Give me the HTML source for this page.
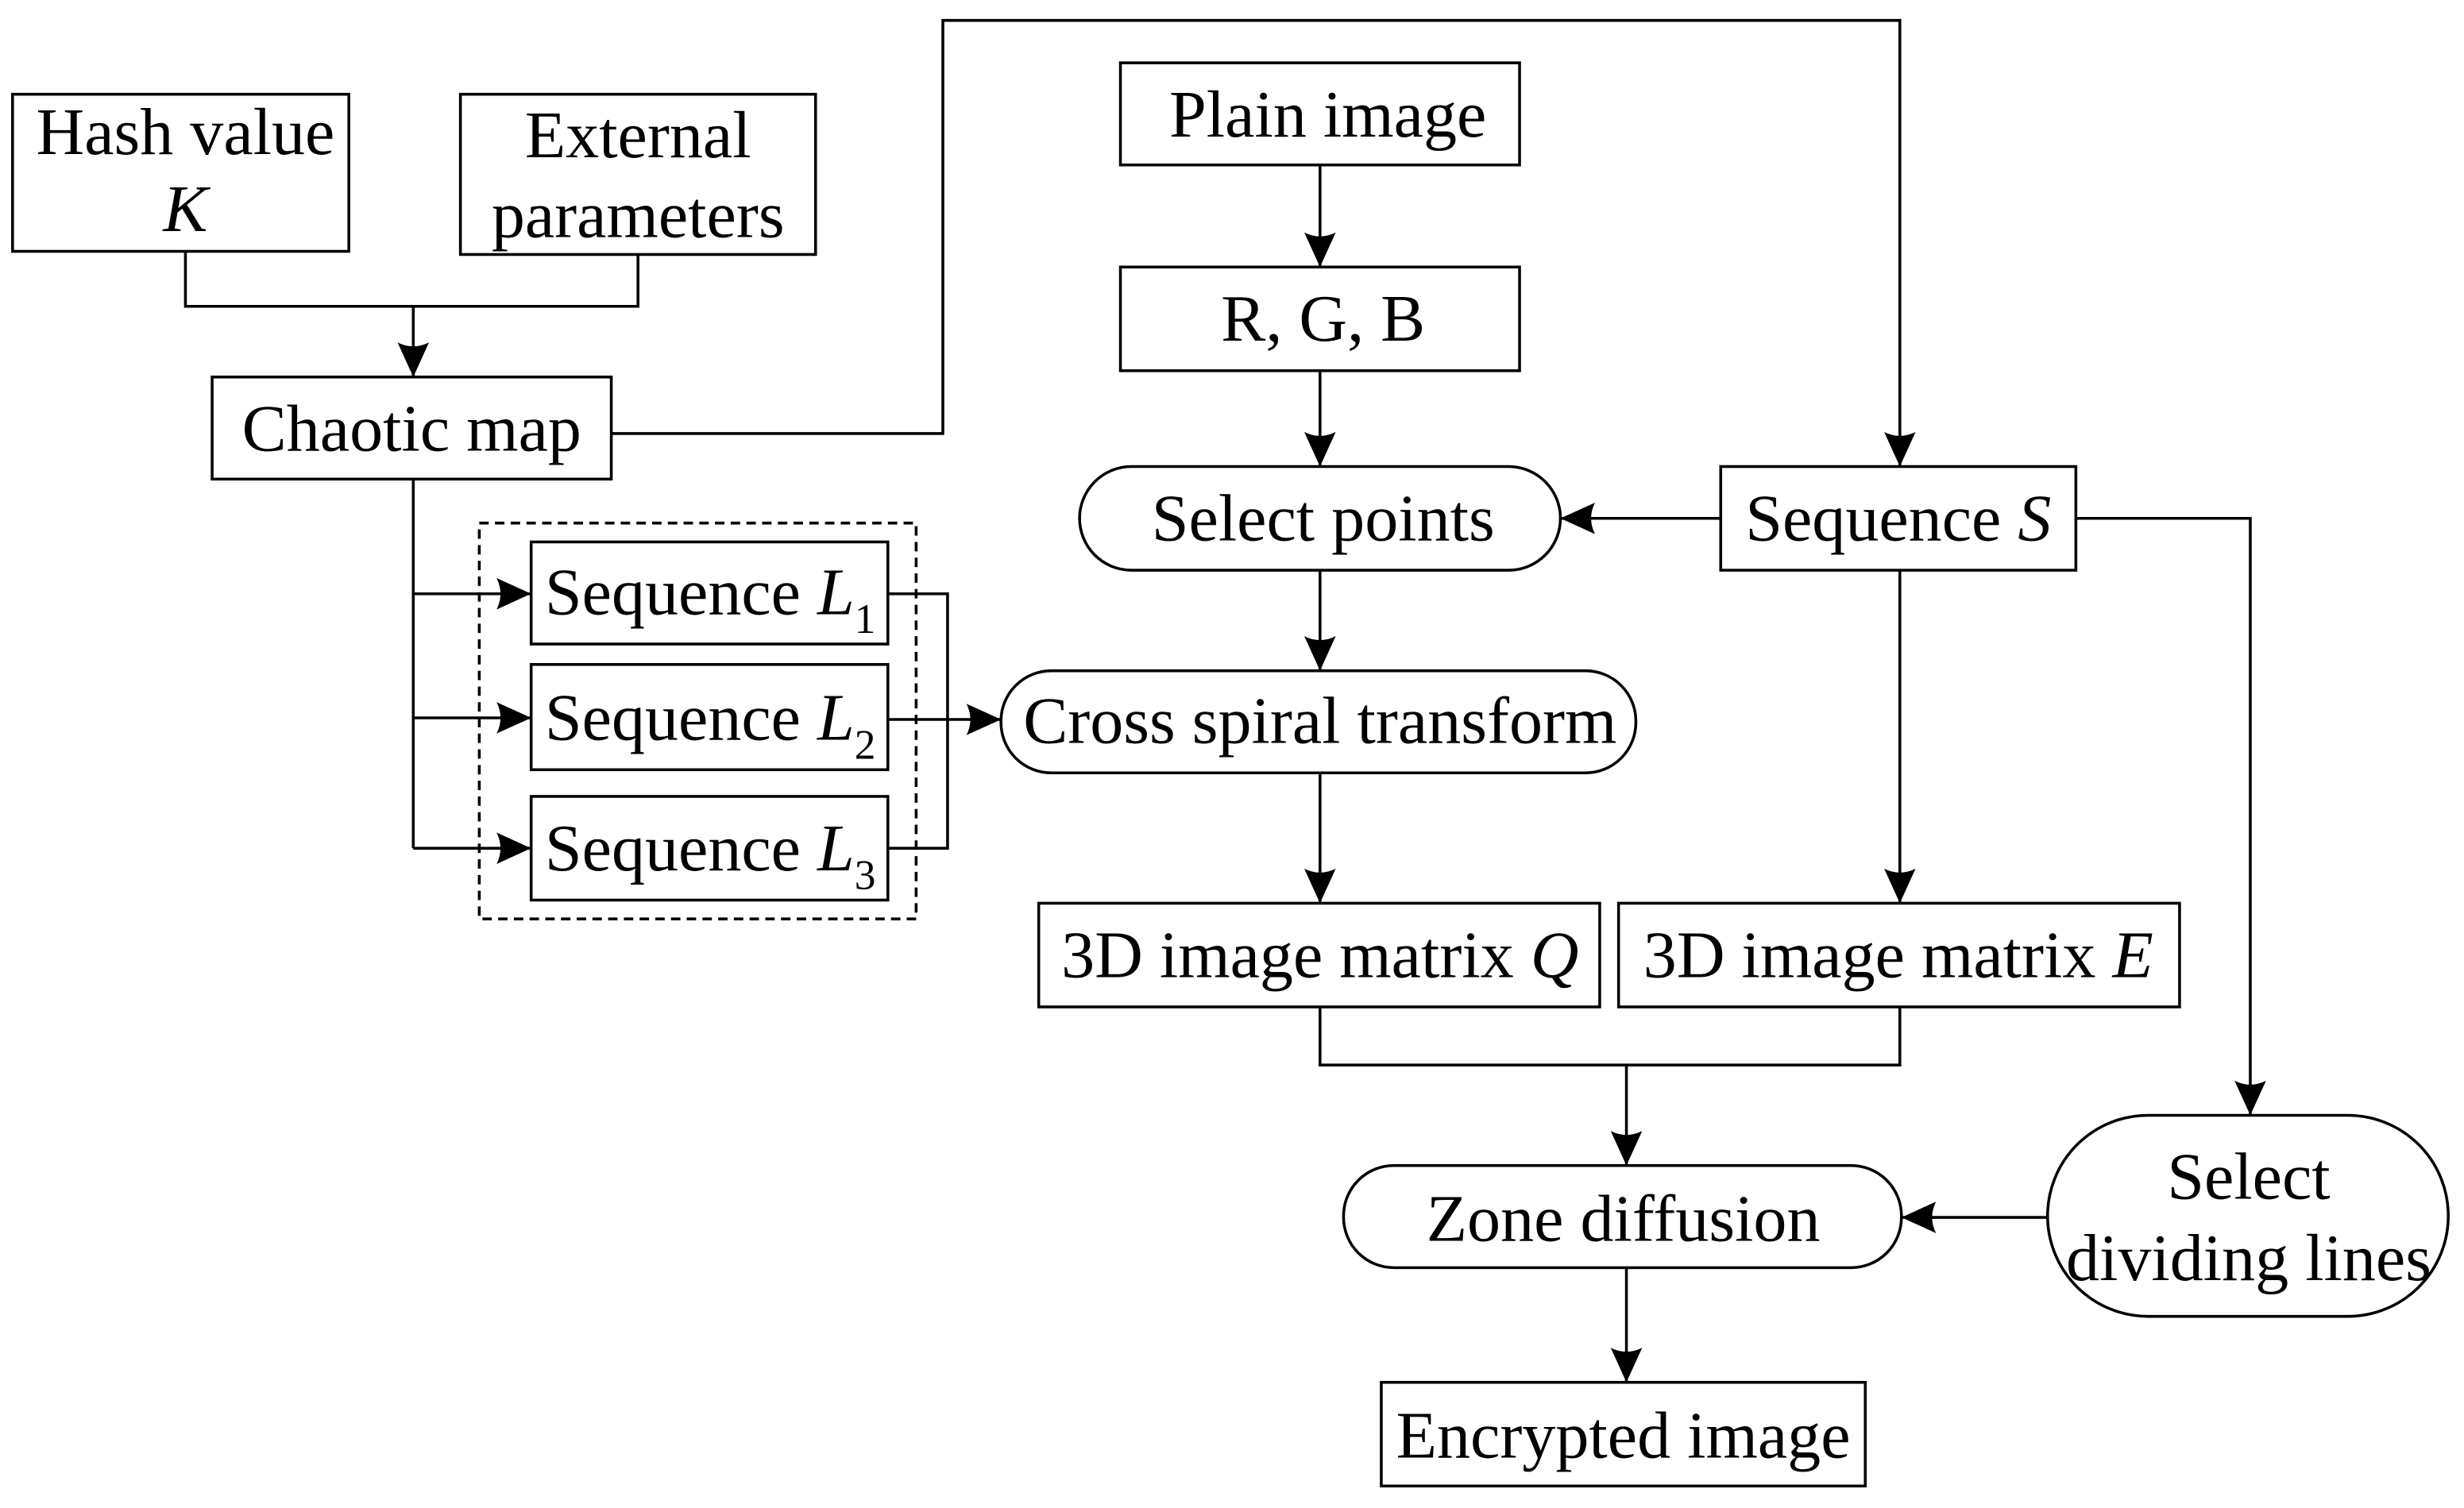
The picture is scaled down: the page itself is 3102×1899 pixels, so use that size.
<!DOCTYPE html>
<html><head><meta charset="utf-8"><style>
html,body{margin:0;padding:0;background:#fff;}
svg{display:block;}
text{font-family:"Liberation Serif",serif;font-size:42.5px;fill:#000;}
</style></head><body>
<svg width="3102" height="1899" viewBox="0 0 1568 960" preserveAspectRatio="none" xmlns="http://www.w3.org/2000/svg">
<defs>
<marker id="b" markerWidth="22" markerHeight="20" refX="22" refY="10" orient="auto" markerUnits="userSpaceOnUse" viewBox="0 0 22 20"><path d="M0,0 L22,10 L0,20 Q5,10 0,0Z" fill="#000"/></marker></defs>
<g fill="none" stroke="#000" stroke-width="1.8">
<rect x="8" y="60" width="214" height="100"/>
<rect x="293" y="60" width="226" height="102"/>
<rect x="135" y="240" width="254" height="65"/>
<rect x="713" y="40" width="254" height="65"/>
<rect x="713" y="170" width="254" height="66"/>
<rect x="687" y="297" width="306" height="66" rx="33"/>
<rect x="1095" y="297" width="226" height="66"/>
<rect x="637" y="427" width="404" height="65" rx="32"/>
<rect x="305" y="333" width="278" height="252" stroke-dasharray="6,4"/>
<rect x="338" y="345" width="227" height="65"/>
<rect x="338" y="423" width="227" height="67"/>
<rect x="338" y="507" width="227" height="66"/>
<rect x="661" y="575" width="357" height="66"/>
<rect x="1030" y="575" width="357" height="66"/>
<rect x="855" y="742" width="355" height="65" rx="32"/>
<rect x="1303" y="710" width="255" height="128" rx="64"/>
<rect x="879" y="880" width="308" height="66"/>
<polyline points="118,160 118,195 406,195 406,162"/>
<line x1="263" y1="195" x2="263" y2="240" marker-end="url(#b)"/>
<polyline points="389,276 600,276 600,13 1209,13 1209,297" marker-end="url(#b)"/>
<line x1="840" y1="105" x2="840" y2="170" marker-end="url(#b)"/>
<line x1="840" y1="236" x2="840" y2="297" marker-end="url(#b)"/>
<line x1="1095" y1="330" x2="993" y2="330" marker-end="url(#b)"/>
<line x1="840" y1="363" x2="840" y2="427" marker-end="url(#b)"/>
<polyline points="263,305 263,540"/>
<line x1="263" y1="378" x2="338" y2="378" marker-end="url(#b)"/>
<line x1="263" y1="457" x2="338" y2="457" marker-end="url(#b)"/>
<line x1="263" y1="540" x2="338" y2="540" marker-end="url(#b)"/>
<polyline points="565,378 603,378 603,540 565,540"/>
<line x1="565" y1="458" x2="637" y2="458" marker-end="url(#b)"/>
<line x1="840" y1="492" x2="840" y2="575" marker-end="url(#b)"/>
<line x1="1209" y1="363" x2="1209" y2="575" marker-end="url(#b)"/>
<polyline points="840,641 840,678 1209,678 1209,641"/>
<line x1="1035" y1="678" x2="1035" y2="742" marker-end="url(#b)"/>
<polyline points="1321,330 1432,330 1432,710" marker-end="url(#b)"/>
<line x1="1303" y1="775" x2="1210" y2="775" marker-end="url(#b)"/>
<line x1="1035" y1="807" x2="1035" y2="880" marker-end="url(#b)"/>
</g>
<g text-anchor="middle">
<text x="118" y="98">Hash value</text>
<text x="118" y="147" font-style="italic">K</text>
<text x="406" y="100">External</text>
<text x="406" y="151">parameters</text>
<text x="262" y="287">Chaotic map</text>
<text x="845" y="87">Plain image</text>
<text x="842" y="217">R, G, B</text>
<text x="842" y="344">Select points</text>
<text x="1208" y="344">Sequence  <tspan font-style="italic">S</tspan></text>
<text x="840" y="473">Cross spiral transform</text>
<text x="452" y="391">Sequence <tspan font-style="italic">L</tspan><tspan font-size="27" dy="12">1</tspan></text>
<text x="452" y="471">Sequence <tspan font-style="italic">L</tspan><tspan font-size="27" dy="12">2</tspan></text>
<text x="452" y="554">Sequence <tspan font-style="italic">L</tspan><tspan font-size="27" dy="12">3</tspan></text>
<text x="840" y="622">3D image matrix <tspan font-style="italic">Q</tspan></text>
<text x="1208" y="622">3D image matrix <tspan font-style="italic">E</tspan></text>
<text x="1033" y="790">Zone diffusion</text>
<text x="1431" y="763">Select</text>
<text x="1431" y="815">dividing lines</text>
<text x="1033" y="928">Encrypted image</text>
</g>
</svg>
</body></html>
